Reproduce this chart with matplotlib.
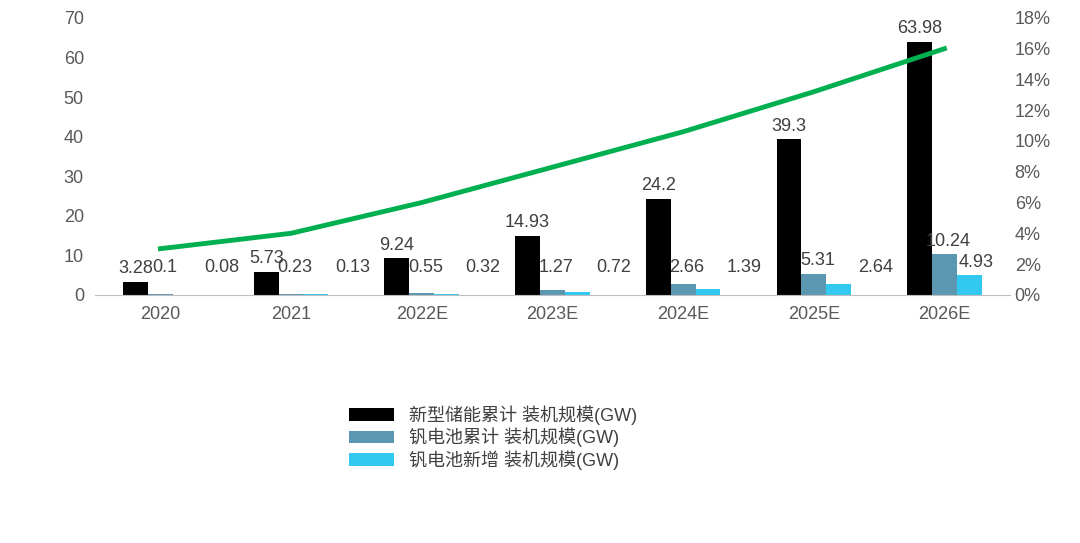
import matplotlib
matplotlib.use("Agg")
import matplotlib.pyplot as plt
import numpy as np
from matplotlib.ticker import PercentFormatter

plt.rcParams['font.family'] = ['Liberation Sans', 'Noto Sans CJK SC', 'DejaVu Sans']

years = ["2020", "2021", "2022E", "2023E", "2024E", "2025E", "2026E"]
new_storage = [3.28, 5.73, 9.24, 14.93, 24.2, 39.3, 63.98]
vanadium_cum = [0.1, 0.23, 0.55, 1.27, 2.66, 5.31, 10.24]
vanadium_new = [0.08, 0.13, 0.32, 0.72, 1.39, 2.64, 4.93]
share_pct = [3.0, 4.0, 6.0, 8.3, 10.6, 13.2, 16.0]

fig = plt.figure(figsize=(10.8, 5.43), dpi=100)
ax = fig.add_axes([0.088, 0.457, 0.847, 0.51])
x = np.arange(len(years))
w = 0.19
b1 = ax.bar(x - w, new_storage, w, color='black', label='新型储能累计 装机规模(GW)')
b2 = ax.bar(x, vanadium_cum, w, color='#5b97b1', label='钒电池累计 装机规模(GW)')
b3 = ax.bar(x + w, vanadium_new, w, color='#33c8f0', label='钒电池新增 装机规模(GW)')
for r, v in zip(b1, new_storage):
    ax.text(r.get_x() + r.get_width() / 2, v + 1.2, f"{v:g}", ha='center', va='bottom',
            fontsize=13, color='#404040')
for r, v in zip(b2, vanadium_cum):
    ax.text(r.get_x() + r.get_width() / 2 + 0.03, max(v, 3.5) + 1.2, f"{v:g}", ha='center',
            va='bottom', fontsize=13, color='#404040')
for i, (r, v) in enumerate(zip(b3, vanadium_new)):
    dx = 0.28 if i < len(vanadium_new) - 1 else 0.05
    ax.text(r.get_x() + r.get_width() / 2 + dx, max(v, 3.5) + 1.2, f"{v:g}", ha='center',
            va='bottom', fontsize=13, color='#404040')
ax.set_ylim(0, 70)
ax.set_yticks(range(0, 71, 10))
ax.set_xlim(-0.5, len(years) - 0.5)
ax.set_xticks(x)
ax.set_xticklabels(years)
for s in ['top', 'right', 'left']:
    ax.spines[s].set_visible(False)
ax.spines['bottom'].set_color('#bfbfbf')
ax.tick_params(axis='both', length=0, labelsize=13, colors='#595959', pad=8)

ax2 = ax.twinx()
ax2.plot(x, share_pct, color='#00b050', lw=3.5)
ax2.set_ylim(0, 18)
ax2.set_yticks(range(0, 19, 2))
ax2.yaxis.set_major_formatter(PercentFormatter(decimals=0))
for s in ax2.spines.values():
    s.set_visible(False)
ax2.tick_params(axis='y', length=0, labelsize=13, colors='#595959')

fig.legend(handles=[b1, b2, b3], loc='upper left', bbox_to_anchor=(0.315, 0.27),
           frameon=False, fontsize=13, handlelength=2.5, handleheight=0.7,
           labelspacing=0.15, borderpad=0, labelcolor='#404040')
fig.savefig('out.png', dpi=100)
